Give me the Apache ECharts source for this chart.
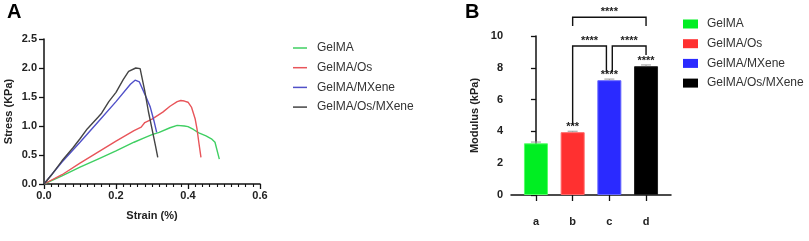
<!DOCTYPE html>
<html>
<head>
<meta charset="utf-8">
<script src="https://cdn.jsdelivr.net/npm/echarts@6/dist/echarts.min.js"></script>
<style>html,body{margin:0;padding:0;background:#fff;}#c{width:809px;height:241px;}</style>
</head>
<body>
<div id="c"></div>
<script>
// ---- Panel A data: strain (%) vs stress (KPa)
const gelma = [[0,0],[0.05,0.14],[0.1,0.29],[0.15,0.43],[0.2,0.57],[0.25,0.72],[0.28,0.8],[0.3,0.85],[0.32,0.89],[0.35,0.97],[0.37,1.01],[0.39,1.0],[0.4,0.99],[0.415,0.94],[0.43,0.88],[0.45,0.83],[0.465,0.78],[0.475,0.72],[0.487,0.43]];
const gelmaOs = [[0,0],[0.05,0.16],[0.1,0.36],[0.15,0.55],[0.2,0.74],[0.25,0.92],[0.27,0.98],[0.28,1.06],[0.3,1.12],[0.33,1.24],[0.35,1.34],[0.37,1.42],[0.38,1.44],[0.39,1.43],[0.4,1.41],[0.41,1.32],[0.42,1.12],[0.425,0.95],[0.43,0.72],[0.436,0.46]];
const gelmaMx = [[0,0],[0.05,0.38],[0.1,0.72],[0.15,1.07],[0.2,1.42],[0.24,1.72],[0.253,1.79],[0.265,1.76],[0.28,1.55],[0.295,1.33],[0.305,1.1],[0.313,0.89]];
const gelmaOsMx = [[0,0],[0.02,0.15],[0.05,0.4],[0.08,0.62],[0.1,0.78],[0.12,0.95],[0.15,1.15],[0.16,1.22],[0.18,1.42],[0.2,1.58],[0.22,1.8],[0.235,1.94],[0.255,2.0],[0.267,1.99],[0.28,1.6],[0.29,1.25],[0.3,0.95],[0.31,0.65],[0.316,0.46]];
const lineNames = ['GelMA','GelMA/Os','GelMA/MXene','GelMA/Os/MXene'];

// ---- Panel B data: modulus (kPa)
const groupLabels = ['a','b','c','d'];
const barNames = ['GelMA ','GelMA/Os ','GelMA/MXene ','GelMA/Os/MXene '];
const modulus = [3.25, 3.95, 7.22, 8.1];
const modulusSd = [0.08, 0.06, 0.07, 0.08];
const barStars = ['', '***', '****', '****'];
// brackets: [xLeft, xRight, yBar, yLeftEnd, yRightEnd, label]
const brackets = [
  [1, 3, 11.18, 10.63, 10.63, '****'],
  [1, 1.92, 9.37, 4.4, 7.75, '****'],
  [2.08, 3, 9.37, 7.75, 8.8, '****']
];

const font = 'Liberation Sans, Arial, sans-serif';
const lineColors = ['#3fcf62','#e8555a','#5050c8','#444444'];
const barColors = ['#00ee22','#ff3030','#2a2aff','#000000'];
const barBorders = ['#55ff66','#ff6666','#6666ff','#222222'];

const series = [];
[gelma, gelmaOs, gelmaMx, gelmaOsMx].forEach((d, i) => {
  series.push({
    name: lineNames[i], type: 'line', xAxisIndex: 0, yAxisIndex: 0,
    data: d, symbol: 'none', showSymbol: false,
    lineStyle: {color: lineColors[i], width: 1.4}, itemStyle: {color: lineColors[i]},
    z: 3 + i
  });
});
modulus.forEach((v, i) => {
  series.push({
    name: barNames[i], type: 'bar', xAxisIndex: 1, yAxisIndex: 1,
    data: [[i, v]], barWidth: 24, barGap: '-100%',
    itemStyle: {color: barColors[i], borderColor: barBorders[i], borderWidth: 1}
  });
});
// error bars + stars above bars
series.push({
  type: 'custom', xAxisIndex: 1, yAxisIndex: 1, clip: false, z: 5,
  data: modulus.map((v, i) => [i, v, modulusSd[i]]),
  renderItem: function (params, api) {
    const x = api.value(0), v = api.value(1), sd = api.value(2);
    const top = api.coord([x, v + sd]);
    const bot = api.coord([x, v]);
    const s = barStars[params.dataIndex];
    const children = [
      {type: 'line', shape: {x1: top[0], y1: top[1], x2: bot[0], y2: bot[1]}, style: {stroke: '#999', lineWidth: 1}},
      {type: 'line', shape: {x1: top[0] - 5, y1: top[1], x2: top[0] + 5, y2: top[1]}, style: {stroke: '#999', lineWidth: 1}}
    ];
    if (s) {
      children.push({type: 'text', x: top[0], y: top[1] - 4,
        style: {text: s, fill: '#222', font: 'bold 11px ' + font, align: 'center', verticalAlign: 'middle'}});
    }
    return {type: 'group', children: children};
  }
});
// significance brackets
series.push({
  type: 'custom', xAxisIndex: 1, yAxisIndex: 1, clip: false, z: 5,
  data: brackets.map(b => b.slice(0, 5)),
  renderItem: function (params, api) {
    const x1 = api.value(0), x2 = api.value(1), y = api.value(2), yl = api.value(3), yr = api.value(4);
    const lab = brackets[params.dataIndex][5];
    const p1 = api.coord([x1, yl]), p2 = api.coord([x1, y]), p3 = api.coord([x2, y]), p4 = api.coord([x2, yr]);
    return {type: 'group', children: [
      {type: 'polyline', shape: {points: [p1, p2, p3, p4]}, style: {stroke: '#111', lineWidth: 1.4, fill: null}},
      {type: 'text', x: (p2[0] + p3[0]) / 2, y: p2[1] - 5,
        style: {text: lab, fill: '#222', font: 'bold 11px ' + font, align: 'center', verticalAlign: 'middle'}}
    ]};
  }
});

const axisLine = {show: true, lineStyle: {color: '#111', width: 1.5}};
const tickLab = {color: '#222', fontFamily: font, fontWeight: 'bold', fontSize: 11};
const nameStyle = {color: '#222', fontFamily: font, fontWeight: 'bold', fontSize: 11};

const chart = echarts.init(document.getElementById('c'), null, {renderer: 'canvas'});
chart.setOption({
  animation: false,
  backgroundColor: '#fff',
  graphic: [
    {type: 'text', left: 7, top: 2, style: {text: 'A', font: 'bold 20px ' + font, fill: '#000'}},
    {type: 'text', left: 465, top: 2, style: {text: 'B', font: 'bold 20px ' + font, fill: '#000'}}
  ],
  legend: [
    {
      data: lineNames, orient: 'vertical', left: 293, top: 41, padding: 0,
      itemWidth: 14, itemHeight: 8, itemGap: 5.7, icon: 'path://M0,0L14,0L14,1.5L0,1.5Z',
      textStyle: {color: '#333', fontFamily: font, fontSize: 12, lineHeight: 14, padding: [0, 0, 0, 5]},
      selectedMode: false
    },
    {
      data: barNames, orient: 'vertical', left: 683, top: 17, padding: 0,
      itemWidth: 15, itemHeight: 9, itemGap: 5.7, icon: 'rect',
      itemStyle: {borderWidth: 0},
      textStyle: {color: '#333', fontFamily: font, fontSize: 12, lineHeight: 14, padding: [0, 0, 0, 4]},
      selectedMode: false
    }
  ],
  grid: [
    {left: 44, top: 39, width: 216, height: 145, containLabel: false},
    {left: 511, top: 36, width: 160, height: 159, containLabel: false}
  ],
  xAxis: [
    {
      type: 'value', gridIndex: 0, min: 0, max: 0.6, interval: 0.2,
      name: 'Strain (%)', nameLocation: 'middle', nameGap: 26, nameTextStyle: nameStyle,
      axisLine: axisLine,
      axisTick: {show: true, length: 5, lineStyle: {color: '#111', width: 1.3}},
      minorTick: {show: true, splitNumber: 10, length: 3, lineStyle: {color: '#111', width: 1.1}},
      splitLine: {show: false},
      axisLabel: Object.assign({margin: 6, formatter: v => v.toFixed(1)}, tickLab)
    },
    {
      type: 'value', gridIndex: 1, min: -0.68, max: 3.68,
      axisLine: axisLine,
      axisTick: {show: true, length: 6, customValues: [0, 1, 2, 3], lineStyle: {color: '#111', width: 1.3}},
      splitLine: {show: false},
      axisLabel: Object.assign({margin: 21, customValues: [0, 1, 2, 3], formatter: v => groupLabels[Math.round(v)] || ''}, tickLab)
    }
  ],
  yAxis: [
    {
      type: 'value', gridIndex: 0, min: 0, max: 2.5, interval: 0.5,
      name: 'Stress (KPa)', nameLocation: 'middle', nameGap: 30, nameTextStyle: nameStyle,
      axisLine: axisLine,
      axisTick: {show: true, length: 5, lineStyle: {color: '#111', width: 1.3}},
      splitLine: {show: false},
      axisLabel: Object.assign({margin: 7, formatter: v => v.toFixed(1)}, tickLab)
    },
    {
      type: 'value', gridIndex: 1, min: 0, max: 10, interval: 2,
      name: 'Modulus (kPa)', nameLocation: 'middle', nameGap: 31, nameTextStyle: nameStyle,
      axisLine: axisLine,
      axisTick: {show: true, length: 5, lineStyle: {color: '#111', width: 1.3}},
      splitLine: {show: false},
      axisLabel: Object.assign({margin: 8}, tickLab)
    }
  ],
  series: series
});
</script>
</body>
</html>
